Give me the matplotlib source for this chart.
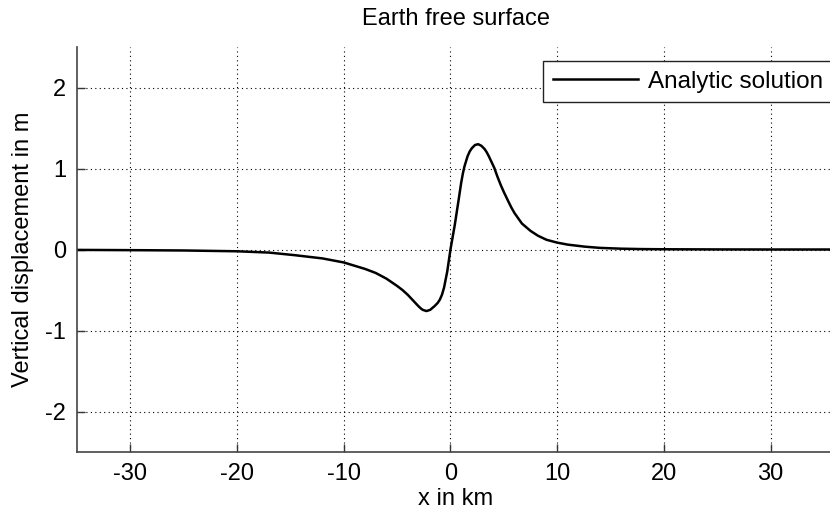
import matplotlib
matplotlib.use('Agg')
import matplotlib.pyplot as plt

# values
x_km = [-35, -30, -25, -20, -17, -14.6, -12, -10, -9, -8, -7, -6, -5, -4.5, -4,
        -3.5, -3, -2.8, -2.6, -2.25, -1.9, -1.5, -1.2, -1.0, -0.8, -0.6, -0.3,
        0, 0.2, 0.4, 0.75, 1.0, 1.15, 1.3, 1.6, 1.8, 2.0, 2.3, 2.6, 2.9, 3.2,
        3.4, 3.6, 3.85, 4.1, 4.4, 4.7, 5.0, 5.4, 5.7, 6.0, 6.7, 7.5, 8.2, 9,
        10, 11, 12.6, 14, 16, 18, 20, 25, 30, 36]
disp_m = [-0.005, -0.008, -0.012, -0.022, -0.038, -0.07, -0.11, -0.16, -0.2,
          -0.24, -0.29, -0.36, -0.45, -0.5, -0.56, -0.63, -0.70, -0.725, -0.745,
          -0.76, -0.745, -0.70, -0.66, -0.62, -0.56, -0.47, -0.27, 0.0, 0.15,
          0.30, 0.6, 0.82, 0.93, 1.02, 1.15, 1.21, 1.25, 1.29, 1.30, 1.28, 1.24,
          1.20, 1.15, 1.08, 1.01, 0.9, 0.8, 0.71, 0.6, 0.52, 0.45, 0.32, 0.23,
          0.17, 0.12, 0.085, 0.06, 0.035, 0.02, 0.01, 0.005, 0.003, 0.001, 0, 0]

x_ticks = [-30, -20, -10, 0, 10, 20, 30]
y_ticks = [-2, -1, 0, 1, 2]

plt.rcParams['font.family'] = ['Liberation Sans', 'DejaVu Sans']
plt.rcParams['font.size'] = 17
plt.rcParams['axes.unicode_minus'] = False

fig = plt.figure(figsize=(8.3, 5.18), dpi=100)
ax = fig.add_axes([77/830, 66/518, (834.6-77)/830, (452-47)/518])

ax.plot(x_km, disp_m, color='black', lw=1.8, label='Analytic solution')

ax.set_xlim(-35, 36)
ax.set_ylim(-2.5, 2.5)
ax.set_xticks(x_ticks)
ax.set_yticks(y_ticks)
ax.grid(True, color='black', lw=0.8, linestyle=(0, (1, 3)))
ax.tick_params(direction='in', length=6, width=1, color='#333333', pad=8)

for s in ['top', 'right']:
    ax.spines[s].set_visible(False)
for s in ['left', 'bottom']:
    ax.spines[s].set_color('#444444')
    ax.spines[s].set_linewidth(1.2)

ax.set_title('Earth free surface', fontsize=17, pad=16)
ax.set_xlabel('x in km', labelpad=2)
ax.set_ylabel('Vertical displacement in m', labelpad=8)

leg = ax.legend(loc='upper left', bbox_to_anchor=(543/830, 1 - 61/518),
                bbox_transform=fig.transFigure, frameon=True, fancybox=False,
                handlelength=3.5, handletextpad=0.4, borderpad=0.4,
                borderaxespad=0, fontsize=17.5)
leg.get_frame().set_edgecolor('#222222')
leg.get_frame().set_linewidth(1.0)
leg.get_frame().set_alpha(1)

fig.savefig('out.png', dpi=100)
